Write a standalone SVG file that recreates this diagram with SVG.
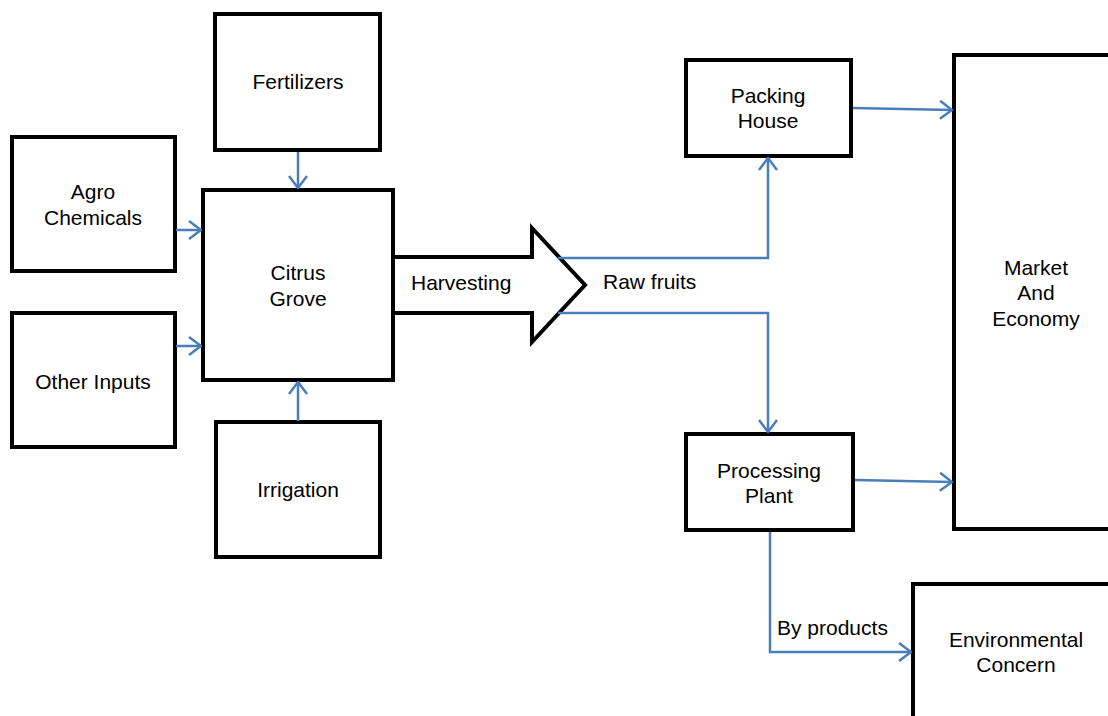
<svg xmlns="http://www.w3.org/2000/svg" width="1108" height="716" viewBox="0 0 1108 716">
<style>
.box{fill:#fff;stroke:#000;stroke-width:4}
.t{font-family:"Liberation Sans",Arial,sans-serif;font-size:21px;fill:#000;text-anchor:middle}
.tl{font-family:"Liberation Sans",Arial,sans-serif;font-size:21px;fill:#000}
.c{fill:none;stroke:#4a7ebb;stroke-width:2.5}
</style>
<defs>
<marker id="ah" viewBox="0 0 14 20" refX="13" refY="10" markerWidth="14" markerHeight="20" markerUnits="userSpaceOnUse" orient="auto">
<path d="M1,1 L13,10 L1,19" fill="none" stroke="#4a7ebb" stroke-width="2.5"/>
</marker>
</defs>
<rect width="1108" height="716" fill="#fff"/>
<g id="harvest">
<polygon points="393,257 532,257 532,228 585,285 532,342 532,313 393,313" fill="#fff" stroke="#000" stroke-width="4" stroke-linejoin="miter"/>
<text class="tl" x="411" y="290">Harvesting</text>
</g>
<g id="fertilizers"><rect class="box" x="215" y="14" width="165" height="136"/><text class="t" x="298" y="89">Fertilizers</text></g>
<g id="agro"><rect class="box" x="12" y="137" width="163" height="134"/><text class="t" x="93" y="199">Agro</text><text class="t" x="93" y="225">Chemicals</text></g>
<g id="other"><rect class="box" x="12" y="313" width="163" height="134"/><text class="t" x="93" y="389">Other Inputs</text></g>
<g id="citrus"><rect class="box" x="203" y="190" width="190" height="190"/><text class="t" x="298" y="280">Citrus</text><text class="t" x="298" y="306">Grove</text></g>
<g id="irrigation"><rect class="box" x="216" y="422" width="164" height="135"/><text class="t" x="298" y="497">Irrigation</text></g>
<g id="packing"><rect class="box" x="686" y="60" width="165" height="96"/><text class="t" x="768" y="103">Packing</text><text class="t" x="768" y="128">House</text></g>
<g id="processing"><rect class="box" x="686" y="434" width="167" height="96"/><text class="t" x="769" y="478">Processing</text><text class="t" x="769" y="503">Plant</text></g>
<g id="market"><rect class="box" x="954" y="55" width="200" height="474"/><text class="t" x="1036" y="275">Market</text><text class="t" x="1036" y="300">And</text><text class="t" x="1036" y="326">Economy</text></g>
<g id="environmental"><rect class="box" x="913" y="584" width="200" height="200"/><text class="t" x="1016" y="647">Environmental</text><text class="t" x="1016" y="672">Concern</text></g>
<g id="connectors">
<line class="c" x1="298" y1="152" x2="298" y2="188" marker-end="url(#ah)"/>
<line class="c" x1="298" y1="421" x2="298" y2="382" marker-end="url(#ah)"/>
<line class="c" x1="176" y1="230" x2="201" y2="230" marker-end="url(#ah)"/>
<line class="c" x1="176" y1="346" x2="201" y2="346" marker-end="url(#ah)"/>
<polyline class="c" points="558,258 768,258 768,158" marker-end="url(#ah)"/>
<polyline class="c" points="558,313 768,313 768,432" marker-end="url(#ah)"/>
<line class="c" x1="853" y1="108" x2="952" y2="110" marker-end="url(#ah)"/>
<line class="c" x1="855" y1="480" x2="952" y2="482" marker-end="url(#ah)"/>
<polyline class="c" points="770,532 770,652 911,652" marker-end="url(#ah)"/>
<text class="tl" x="603" y="289">Raw fruits</text>
<text class="tl" x="777" y="635">By products</text>
</g>
</svg>
